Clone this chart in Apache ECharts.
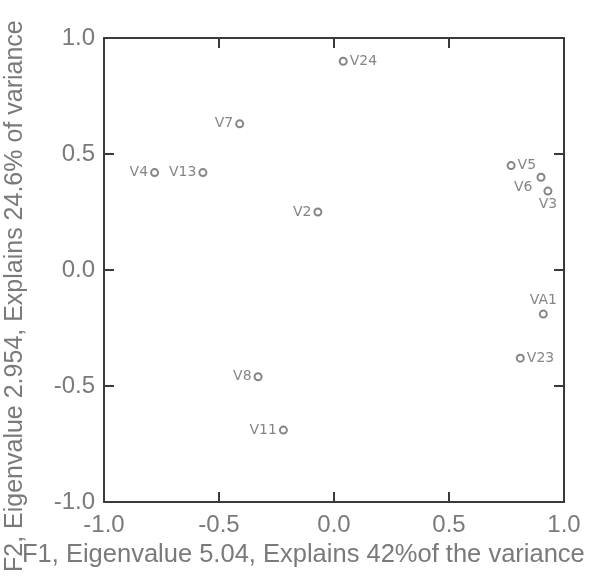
<!DOCTYPE html>
<html>
<head>
<meta charset="utf-8">
<script src="https://cdn.jsdelivr.net/npm/echarts@6/dist/echarts.min.js"></script>
<style>
  html, body { margin: 0; padding: 0; background: #fff; }
  #chart { width: 589px; height: 578px; }
</style>
</head>
<body>
<div id="chart"></div>
<script>
// variable loadings on F1 / F2
const names = ['V24', 'V7', 'V4', 'V13', 'V2', 'V5', 'V6', 'V3', 'VA1', 'V23', 'V8', 'V11']
const f1 = [0.04, -0.41, -0.78, -0.57, -0.07, 0.77, 0.90, 0.93, 0.91, 0.81, -0.33, -0.22]
const f2 = [0.90, 0.63, 0.42, 0.42, 0.25, 0.45, 0.40, 0.34, -0.19, -0.38, -0.46, -0.69]

const xTitle = 'F1, Eigenvalue 5.04, Explains 42%of the variance'
const yTitle = 'F2, Eigenvalue 2.954, Explains 24.6% of variance'

// where each label sits relative to its marker
const labelPos = {
  V24: 'right', V5: 'right', V23: 'right',
  V3: 'bottom', VA1: 'top'
}

const textColor = '#7a7a7a'
const lineColor = '#3a3a3a'
const fontFamily = 'Liberation Sans, Arial, sans-serif'

const chart = echarts.init(document.getElementById('chart'))

const points = names.map((n, i) => {
  const pos = labelPos[n] || 'left'
  const item = {
    name: n,
    value: [f1[i], f2[i]],
    label: { position: pos, distance: 2 }
  }
  if (n === 'V6') item.label = { position: 'left', distance: 4, offset: [0, 10] }
  return item
})

const baseAxis = {
  type: 'value',
  min: -1,
  max: 1,
  interval: 0.5,
  axisLine: { show: true, onZero: false, lineStyle: { color: lineColor, width: 2 } },
  axisTick: { show: true, inside: true, length: 10, lineStyle: { color: lineColor, width: 2 } },
  splitLine: { show: false },
  axisLabel: {
    color: textColor,
    fontSize: 24,
    fontFamily: fontFamily,
    formatter: v => v.toFixed(1)
  }
}

const option = {
  animation: false,
  backgroundColor: '#fff',
  grid: { left: 104, right: 25, top: 38, bottom: 76 },
  xAxis: [
    Object.assign({}, baseAxis, { position: 'bottom', axisLabel: Object.assign({}, baseAxis.axisLabel, { margin: 11 }) }),
    Object.assign({}, baseAxis, { position: 'top', axisLabel: { show: false } })
  ],
  yAxis: [
    Object.assign({}, baseAxis, { position: 'left', axisLabel: Object.assign({}, baseAxis.axisLabel, { margin: 9 }) }),
    Object.assign({}, baseAxis, { position: 'right', axisLabel: { show: false } })
  ],
  graphic: [
    {
      type: 'text',
      x: 22,
      y: 542,
      style: { text: xTitle, fill: textColor, font: '25.5px ' + fontFamily, textBaseline: 'top' }
    },
    {
      type: 'text',
      x: 3,
      y: 572,
      rotation: Math.PI / 2,
      style: { text: yTitle, fill: textColor, font: '25px ' + fontFamily, textBaseline: 'top' }
    }
  ],
  series: [
    {
      type: 'scatter',
      symbol: 'emptyCircle',
      symbolSize: 7,
      itemStyle: { color: '#666', borderWidth: 1.2 },
      label: {
        show: true,
        formatter: p => p.name,
        color: '#666',
        fontSize: 14,
        fontFamily: 'DejaVu Sans, sans-serif'
      },
      data: points
    }
  ]
}

chart.setOption(option)
</script>
</body>
</html>
